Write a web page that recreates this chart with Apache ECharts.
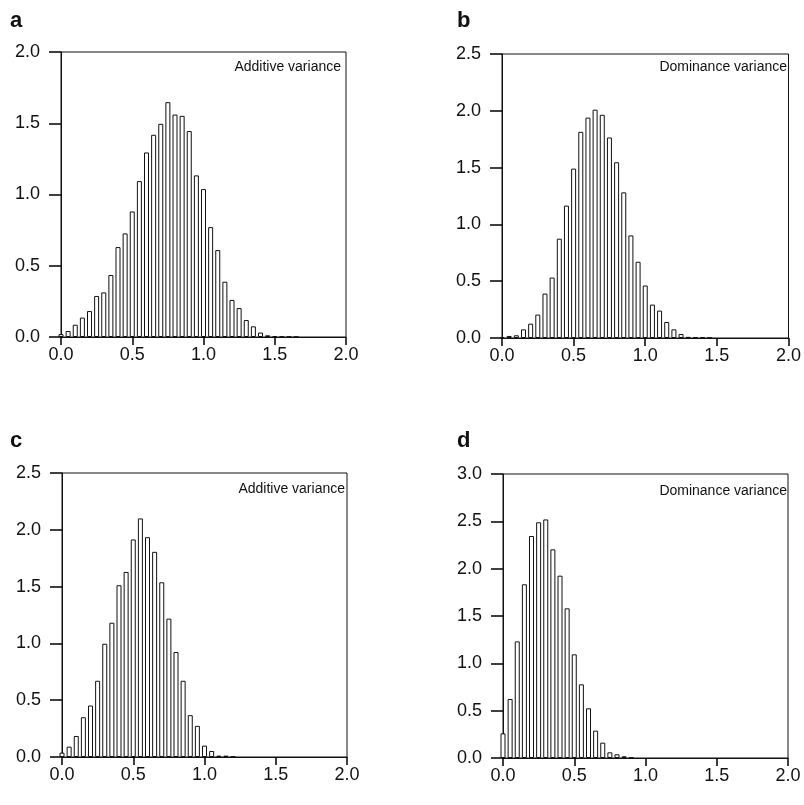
<!DOCTYPE html>
<html lang="en">
  <head>
    <meta charset="UTF-8" />
    <script src="https://cdn.jsdelivr.net/npm/echarts@6/dist/echarts.min.js"></script>
    <title>Variance histograms</title>
    <style>
      html, body { margin: 0; padding: 0; background: #fff; }
    </style>
  </head>
  <body>
    <div id="container" style="width: 804px; height: 805px;"></div>

    <script>
      // bin centres, width 0.05
      const bins = [
        0.0, 0.05, 0.1, 0.15, 0.2, 0.25, 0.3, 0.35, 0.4, 0.45,
        0.5, 0.55, 0.6, 0.65, 0.7, 0.75, 0.8, 0.85, 0.9, 0.95,
        1.0, 1.05, 1.1, 1.15, 1.2, 1.25, 1.3, 1.35, 1.4, 1.45,
        1.5, 1.55, 1.6, 1.65,
      ];

      const additiveA = [
        0.02, 0.042, 0.086, 0.136, 0.182, 0.288, 0.313, 0.435, 0.631, 0.727,
        0.881, 1.094, 1.295, 1.419, 1.496, 1.648, 1.561, 1.552, 1.445, 1.134,
        1.038, 0.771, 0.61, 0.388, 0.26, 0.203, 0.119, 0.075, 0.031, 0.012,
        0.006, 0.003, 0.002, 0.001,
      ];
      const dominanceB = [
        0.008, 0.018, 0.024, 0.076, 0.126, 0.206, 0.391, 0.532, 0.874, 1.165,
        1.491, 1.815, 1.94, 2.01, 1.965, 1.765, 1.547, 1.282, 0.903, 0.671,
        0.462, 0.294, 0.241, 0.141, 0.076, 0.035, 0.01, 0.006, 0.004, 0.002,
      ];
      const additiveC = [
        0.038, 0.091, 0.185, 0.35, 0.453, 0.671, 0.997, 1.182, 1.512, 1.629,
        1.915, 2.1, 1.935, 1.806, 1.538, 1.218, 0.924, 0.671, 0.368, 0.274,
        0.1, 0.053, 0.012, 0.012, 0.003,
      ];
      const dominanceD = [
        0.26, 0.623, 1.232, 1.835, 2.345, 2.49, 2.52, 2.204, 1.926, 1.581,
        1.095, 0.778, 0.525, 0.289, 0.162, 0.06, 0.039, 0.018, 0.005,
      ];

      const panelLetters = ["a", "b", "c", "d"];
      const panelTitles = [
        "Additive variance",
        "Dominance variance",
        "Additive variance",
        "Dominance variance",
      ];
      const yMax = [2.0, 2.5, 2.5, 3.0];
      const xTicks = [0, 0.5, 1.0, 1.5, 2.0];

      const chart = echarts.init(document.getElementById("container"));

      const font = "Liberation Sans, Arial, sans-serif";
      const allValues = [additiveA, dominanceB, additiveC, dominanceD];

      // plot boxes (px)
      const grids = [
        { left: 61, top: 52, width: 285, height: 285 },
        { left: 502, top: 54, width: 287, height: 284 },
        { left: 62, top: 473, width: 285, height: 284 },
        { left: 503, top: 474, width: 285, height: 284 },
      ];
      const letterPos = [
        { left: 10, top: 10 },
        { left: 457, top: 10 },
        { left: 10, top: 430 },
        { left: 457, top: 430 },
      ];
      const insetPos = [
        { right: 463, top: 60 },
        { right: 17, top: 60 },
        { right: 459, top: 482 },
        { right: 17, top: 484 },
      ];

      const tickStyle = { color: "#000", width: 1.5 };

      const option = {
        animation: false,
        backgroundColor: "#fff",
        title: [
          ...panelLetters.map((t, i) => ({
            text: t,
            ...letterPos[i],
            padding: 0,
            textStyle: { fontFamily: font, fontSize: 22, fontWeight: "bold", color: "#111" },
          })),
          ...panelTitles.map((t, i) => ({
            text: t,
            ...insetPos[i],
            padding: 0,
            textStyle: { fontFamily: font, fontSize: 14, fontWeight: "normal", color: "#111" },
          })),
        ],
        grid: grids.map((g) => ({
          ...g,
          show: true,
          borderColor: "#111",
          borderWidth: 1,
          containLabel: false,
        })),
        xAxis: grids.map((g, i) => ({
          type: "value",
          gridIndex: i,
          min: xTicks[0],
          max: xTicks[xTicks.length - 1],
          interval: 0.5,
          splitLine: { show: false },
          axisLine: { show: true, onZero: false, lineStyle: { color: "#111", width: 1 } },
          axisTick: { show: true, inside: false, length: 8, lineStyle: tickStyle },
          axisLabel: {
            margin: 9,
            fontFamily: font,
            fontSize: 18,
            color: "#111",
            formatter: (v) => v.toFixed(1),
          },
        })),
        yAxis: grids.map((g, i) => ({
          type: "value",
          gridIndex: i,
          min: 0,
          max: yMax[i],
          interval: 0.5,
          splitLine: { show: false },
          axisLine: { show: true, onZero: false, lineStyle: { color: "#111", width: 1 } },
          axisTick: { show: true, inside: false, length: 12, lineStyle: tickStyle },
          axisLabel: {
            margin: 21,
            fontFamily: font,
            fontSize: 18,
            color: "#111",
            formatter: (v) => v.toFixed(1),
          },
        })),
        series: allValues.map((vals, i) => ({
          type: "bar",
          xAxisIndex: i,
          yAxisIndex: i,
          barWidth: 5,
          clip: true,
          itemStyle: { color: "#fff", borderColor: "#111", borderWidth: 1 },
          data: vals.map((v, k) => [bins[k], v]),
        })),
      };

      chart.setOption(option);
    </script>
  </body>
</html>
